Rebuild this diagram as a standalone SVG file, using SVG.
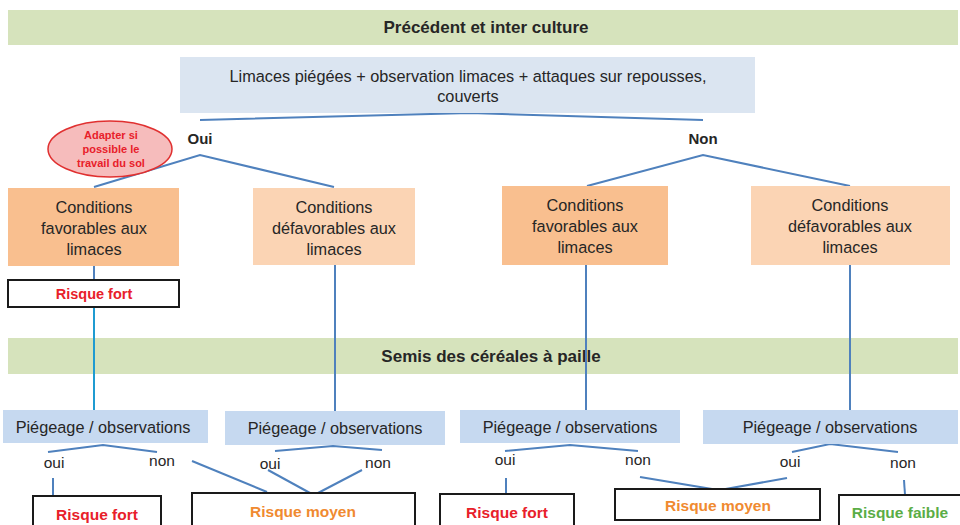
<svg xmlns="http://www.w3.org/2000/svg" width="960" height="525" viewBox="0 0 960 525">
<style>
text{font-family:"Liberation Sans","DejaVu Sans",sans-serif;text-anchor:middle;fill:#262626}
.band{fill:#d6e3bc}
.blue{fill:#dbe5f1}
.pb{fill:#c6d9f0}
.fav{fill:#f9bf8f}
.def{fill:#fbd4b4}
.risk{fill:#fff;stroke:#1a1a1a;stroke-width:2}
.c{fill:none;stroke:#4f81bd;stroke-width:2}
.t16{font-size:16.3px}
.yn{font-size:15.5px}
.b{font-weight:bold}
.red{fill:#e8202a}
.org{fill:#f08a30}
.grn{fill:#5aad46}
.rk{font-size:15.5px;font-weight:bold}
</style>
<rect width="960" height="525" fill="#fff"/>
<g id="band-precedent"><rect class="band" x="8" y="10" width="950" height="35"/><text class="b" x="486" y="33" style="font-size:17px">Précédent et inter culture</text></g>
<g id="band-semis"><rect class="band" x="8" y="338" width="950" height="36"/><text class="b" x="491" y="362" style="font-size:17px">Semis des céréales à paille</text></g>
<g id="connectors">
<polyline class="c" points="200,120 470,113 703,120"/>
<polyline class="c" points="94,187 200,155 334,187"/>
<polyline class="c" points="587,186 703,155 850,186"/>
<line class="c" x1="94" y1="266" x2="94" y2="280"/>
<line x1="94" y1="307" x2="94" y2="410" stroke="#1f9bd1" stroke-width="2"/>
<line class="c" x1="335" y1="265" x2="335" y2="411"/>
<line class="c" x1="586" y1="265" x2="586" y2="410"/>
<line class="c" x1="850" y1="265" x2="850" y2="410"/>
<polyline class="c" points="48,452 103,445 157,452"/>
<polyline class="c" points="275,451 333,446 382,450"/>
<polyline class="c" points="505,451 570,445 638,451"/>
<polyline class="c" points="792,452 830,444 898,452"/>
<line class="c" x1="53" y1="478" x2="53" y2="496"/>
<line class="c" x1="192" y1="461" x2="267" y2="492"/>
<line class="c" x1="268" y1="470" x2="310" y2="493"/>
<line class="c" x1="362" y1="470" x2="318" y2="493"/>
<line class="c" x1="506" y1="478" x2="506" y2="494"/>
<line class="c" x1="640" y1="477" x2="718" y2="490"/>
<line class="c" x1="787" y1="478" x2="720" y2="490"/>
<line class="c" x1="904" y1="480" x2="905" y2="495"/>
</g>
<g id="question"><rect class="blue" x="180" y="57" width="575" height="56"/><text class="t16" x="468" y="82">Limaces piégées + observation limaces + attaques sur repousses,</text><text class="t16" x="468" y="102">couverts</text></g>
<text id="label-oui" class="b" style="font-size:15px" x="200" y="144">Oui</text>
<text id="label-non" class="b" style="font-size:15px" x="703" y="144">Non</text>
<g id="note"><ellipse cx="110" cy="149" rx="62" ry="28" fill="#f6bcbc" stroke="#e03030" stroke-width="1.5"/><text class="b red" style="font-size:11px" x="111" y="139">Adapter si</text><text class="b red" style="font-size:11px" x="111" y="153">possible le</text><text class="b red" style="font-size:11px" x="111" y="167">travail du sol</text></g>
<g id="cond1"><rect class="fav" x="8" y="188" width="171" height="78"/><text class="t16" x="94" y="213">Conditions</text><text class="t16" x="94" y="234">favorables aux</text><text class="t16" x="94" y="255">limaces</text></g>
<g id="cond2"><rect class="def" x="253" y="188" width="162" height="77"/><text class="t16" x="334" y="213">Conditions</text><text class="t16" x="334" y="234">défavorables aux</text><text class="t16" x="334" y="255">limaces</text></g>
<g id="cond3"><rect class="fav" x="502" y="186" width="166" height="79"/><text class="t16" x="585" y="211">Conditions</text><text class="t16" x="585" y="232">favorables aux</text><text class="t16" x="585" y="253">limaces</text></g>
<g id="cond4"><rect class="def" x="751" y="186" width="199" height="79"/><text class="t16" x="850" y="211">Conditions</text><text class="t16" x="850" y="232">défavorables aux</text><text class="t16" x="850" y="253">limaces</text></g>
<g id="risk-top"><rect class="risk" x="8" y="280" width="171" height="27"/><text class="b red" style="font-size:14.5px" x="94" y="299">Risque fort</text></g>
<g id="piege1"><rect class="pb" x="3" y="410" width="205" height="33"/><text class="t16" x="103" y="433">Piégeage / observations</text></g>
<g id="piege2"><rect class="pb" x="225" y="411" width="220" height="34"/><text class="t16" x="335" y="434">Piégeage / observations</text></g>
<g id="piege3"><rect class="pb" x="460" y="410" width="220" height="33"/><text class="t16" x="570" y="433">Piégeage / observations</text></g>
<g id="piege4"><rect class="pb" x="703" y="410" width="255" height="34"/><text class="t16" x="830" y="433">Piégeage / observations</text></g>
<g id="yn-labels">
<text class="yn" x="54" y="468">oui</text><text class="yn" x="162" y="466">non</text>
<text class="yn" x="270" y="469">oui</text><text class="yn" x="378" y="468">non</text>
<text class="yn" x="505" y="465">oui</text><text class="yn" x="638" y="465">non</text>
<text class="yn" x="790" y="467">oui</text><text class="yn" x="903" y="468">non</text>
</g>
<g id="risk1"><rect class="risk" x="33" y="496" width="128" height="34"/><text class="rk red" x="97" y="520">Risque fort</text></g>
<g id="risk2"><rect class="risk" x="192" y="493" width="223" height="37"/><text class="rk org" x="303" y="517">Risque moyen</text></g>
<g id="risk3"><rect class="risk" x="440" y="494" width="134" height="36"/><text class="rk red" x="507" y="518">Risque fort</text></g>
<g id="risk4"><rect class="risk" x="615" y="489" width="205" height="31"/><text class="rk org" x="718" y="511">Risque moyen</text></g>
<g id="risk5"><rect class="risk" x="839" y="495" width="125" height="35"/><text class="rk grn" x="900" y="518">Risque faible</text></g>
</svg>
